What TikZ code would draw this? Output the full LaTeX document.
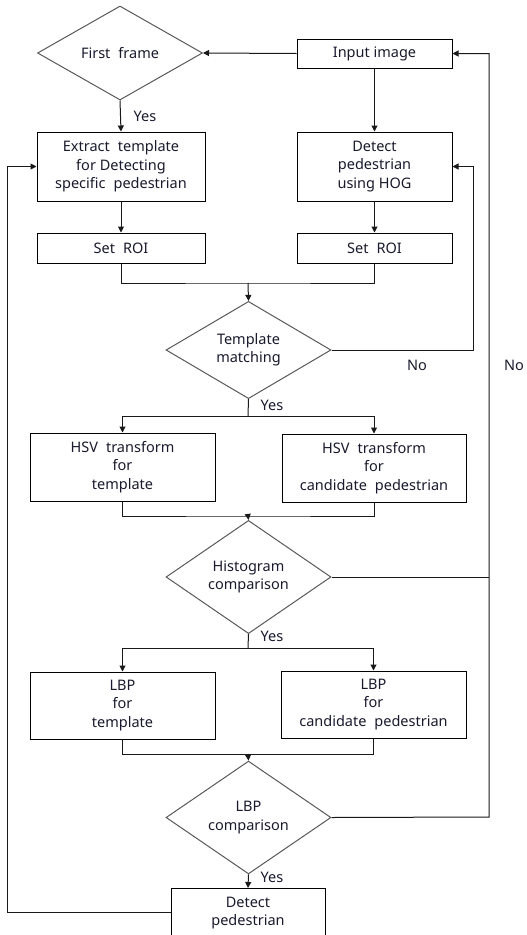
\documentclass[tikz,border=0pt]{standalone}
\usepackage{fontspec}
\setmainfont{Noto Sans}
\usetikzlibrary{shapes.geometric,arrows.meta}
\definecolor{txt}{HTML}{1A1A2E}
\newcommand{\diagfont}{\fontsize{14.5}{18.3}\selectfont\spaceskip=0.55em plus 0.1em\relax}
\newcommand{\nsp}{\hspace{0.26em}}
\tikzset{
  every node/.style={font=\diagfont, text=txt},
  box/.style={draw=black, line width=1pt, rectangle, inner sep=0pt, align=center},
  dec/.style={draw=black!65, line width=1pt, diamond, aspect=1, inner sep=0pt, align=center, minimum width=165pt, minimum height=94pt},
  conn/.style={draw=black!90, line width=1pt},
  arr/.style={conn, -{Triangle[length=6pt,width=6pt]}},
  lbl/.style={inner sep=0pt}
}
\begin{document}
\begin{tikzpicture}[x=1pt,y=-1pt]
\clip (0,0) rectangle (527,935);
\fill[white] (0,0) rectangle (527,935);
% nodes
\node[dec] (first) at (120,53) {First frame};
\node[box, minimum width=155pt, minimum height=29pt] (input) at (374.5,53.5) {Input\nsp image};
\node[box, minimum width=168pt, minimum height=69pt] (extract) at (121,166.5) {Extract template\\for\nsp Detecting\\specific pedestrian};
\node[box, minimum width=155pt, minimum height=69pt] (detect) at (374.5,166.5) {Detect\\pedestrian\\using\nsp HOG};
\node[box, minimum width=168pt, minimum height=30pt] (roi1) at (121,248) {Set ROI};
\node[box, minimum width=155pt, minimum height=30pt] (roi2) at (374.5,248) {Set ROI};
\node[dec] (tm) at (248.5,350) {Template\\matching};
\node[box, minimum width=185pt, minimum height=68pt] (hsv1) at (122.5,467) {HSV transform\\for\\template};
\node[box, minimum width=184pt, minimum height=68pt] (hsv2) at (374,468) {HSV transform\\for\\candidate pedestrian};
\node[dec] (hc) at (248.5,577) {Histogram\\comparison};
\node[box, minimum width=185pt, minimum height=67pt] (lbp1) at (122.5,705.5) {LBP\\for\\template};
\node[box, minimum width=185pt, minimum height=67pt] (lbp2) at (373.5,704.5) {LBP\\for\\candidate pedestrian};
\node[dec, minimum height=91pt] (lc) at (248.5,817.5) {LBP\\comparison};
\node[box, minimum width=154pt, minimum height=70pt, anchor=north] (det) at (248,888) {Detect\\pedestrian\\\strut};
% coordinates
\coordinate (j1) at (248,283);
\coordinate (s1) at (248,416);
\coordinate (j2) at (248,516);
\coordinate (s2) at (248,648);
\coordinate (j3) at (248,754);
\coordinate (r1) at (473,350);
\coordinate (r2) at (489,817);
\coordinate (r3) at (489,577);
\coordinate (l1) at (7,912);
% connectors
\draw[arr] (input.west) -- (first.east);
\draw[arr] (first.south) -- (extract.north);
\draw[arr] (input.south) -- (detect.north);
\draw[arr] (extract.south) -- (roi1.north);
\draw[arr] (detect.south) -- (roi2.north);
\draw[conn] (roi1.south) |- (j1) -| (roi2.south);
\draw[arr] (j1) -- (tm.north);
\draw[arr] (tm.east) -- (r1) |- (detect.east);
\draw[conn] (tm.south) -- (s1);
\draw[arr] (s1) -| (hsv1.north);
\draw[arr] (s1) -| (hsv2.north);
\draw[conn] (hsv1.south) |- (j2) -| (hsv2.south);
\draw[arr] (j2) -- (hc.north);
\draw[conn] (hc.east) -- (r3);
\draw[conn] (hc.south) -- (s2);
\draw[arr] (s2) -| (lbp1.north);
\draw[arr] (s2) -| (lbp2.north);
\draw[conn] (lbp1.south) |- (j3) -| (lbp2.south);
\draw[arr] (j3) -- (lc.north);
\draw[arr] (lc.east) -- (r2) |- (input.east);
\draw[arr] (lc.south) -- (det.north);
\draw[arr] (det.west |- l1) -- (l1) |- (extract.west);
% labels
\node[lbl] (y1) at (145,116) {Yes};
\node[lbl] (y2) at (272,405) {Yes};
\node[lbl] (y3) at (272,636) {Yes};
\node[lbl] (y4) at (272,877) {Yes};
\node[lbl] (n1) at (417,365) {No};
\node[lbl] (n2) at (514,365) {No};
\end{tikzpicture}
\end{document}
